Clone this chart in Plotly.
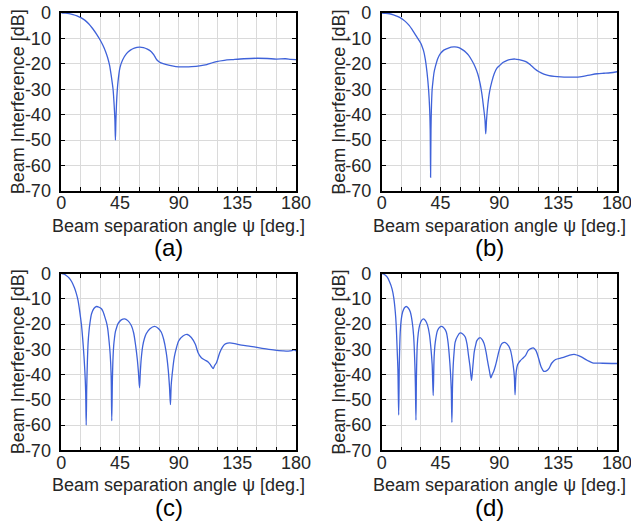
import plotly.graph_objects as go

# ---------------- data ----------------
a_deg = [0, 3, 6, 9, 12, 15, 18, 21, 24, 27,
         30, 32, 34, 35.5, 37, 38.4, 39.7, 40.5, 41.1, 41.5,
         41.9, 42.6, 43.5, 45, 47, 50, 53, 56, 60, 63,
         66, 69, 71, 72.5, 74, 76, 80, 85, 90, 95,
         100, 106, 111.6, 115, 119, 125, 132, 140, 150, 158,
         165, 172, 176, 180]
a_db = [0, -0.05, -0.25, -0.6, -1.1, -1.8, -2.8, -4.2, -6.1, -8.3,
        -10.8, -12.8, -15.2, -17.5, -20.5, -25, -30, -36, -42, -50,
        -42, -33, -27, -21.5, -18.5, -16, -14.6, -13.8, -13.4, -13.6,
        -14.2, -15.2, -16.5, -17.8, -18.8, -19.5, -20.2, -20.8, -21.2, -21.2,
        -21.1, -20.8, -20.3, -19.7, -19.1, -18.6, -18.3, -18.0, -17.8, -17.9,
        -18.1, -18.0, -18.2, -18.3]

b_deg = [0, 3, 6, 9, 12, 15, 18, 21, 24.4, 27,
         30, 31, 32, 33.3, 34.7, 35.9, 36.7, 37.1, 37.4, 37.7,
         38.1, 38.6, 39.3, 40, 41, 43, 45, 47.5, 50, 53,
         56, 59, 62, 64.5, 66.4, 69, 71.5, 73.5, 75.3, 76.7,
         77.9, 79, 79.6, 80.2, 81.2, 82.5, 84.2, 86, 88, 90.6,
         93, 96, 99, 102, 105, 108, 111, 114, 117, 120,
         124, 128, 132, 137, 142.5, 150, 155, 160, 165, 170,
         175, 180]
b_db = [0, -0.1, -0.3, -0.7, -1.3, -2.1, -3.3, -4.9, -7.4, -9.5,
        -12, -13.3, -14.8, -18, -23.5, -30.4, -38, -46, -64.6, -46,
        -36, -30, -26.5, -23.5, -21.2, -17.8, -15.9, -14.6, -14, -13.4,
        -13.3, -13.6, -14.5, -15.5, -16.6, -18.7, -21.2, -24, -27.8, -32,
        -37, -42, -47.5, -42, -36, -31, -27.1, -24, -21.8, -20.5,
        -19.4, -18.6, -18.2, -18.1, -18.3, -18.7, -19.3, -20.5, -21.9, -23,
        -24, -24.6, -24.9, -25.1, -25.2, -25.2, -24.8, -24.3, -23.9, -23.7,
        -23.5, -23.1]

c_deg = [0, 2, 4, 6, 8, 10, 11.5, 12.8, 14.2, 15.5,
         16.8, 18, 18.7, 19.1, 19.5, 20, 20.6, 21.3, 22, 23.2,
         25, 27, 29, 30.8, 32, 33, 34.6, 35.5, 36.3, 37.5,
         38.2, 38.7, 39.2, 39.7, 40.2, 40.8, 41.5, 42.5, 43.5, 46,
         48.6, 51, 53.7, 55.5, 57, 58.3, 59.3, 60, 60.6, 61.3,
         62.5, 63.7, 65.1, 68, 71.5, 74, 76.6, 78.5, 80.4, 82,
         83, 83.7, 84.3, 85.5, 86.7, 88, 90, 93.3, 96.7, 99.7,
         102.8, 104.9, 107.4, 110, 112.6, 114.5, 116.4, 117.5, 119, 121.5,
         123.5, 125.4, 127.5, 129.2, 133, 138.2, 145, 151, 157, 163.8,
         170, 174, 177, 178.5, 180]
c_db = [0, -0.2, -0.8, -1.7, -3.2, -5.5, -7.8, -10.5, -15.2, -20.5,
        -28.4, -38, -47, -60, -45, -35, -27, -22.5, -19.5, -15.9,
        -13.8, -13, -13.3, -13.9, -15, -16.5, -19.2, -21.5, -25, -32,
        -40, -58.3, -42, -33, -28.4, -25.5, -23, -21.2, -19.8, -18.3,
        -17.9, -18.6, -20.5, -23.5, -28.4, -34, -40, -45.2, -39, -33.7,
        -28.5, -25.8, -23.8, -21.8, -20.9, -21.5, -23.1, -26, -31, -38,
        -45, -51.9, -44, -37.7, -33, -30, -26.7, -24.7, -24.1, -25.3,
        -28, -31.3, -33.3, -34.2, -35, -36.2, -37.6, -36.5, -35.3, -31.3,
        -29.2, -28, -27.5, -27.4, -27.7, -28.3, -28.8, -29.3, -29.8, -30.3,
        -30.6, -30.7, -30.5, -30.2, -30.6]

d_deg = [0, 2, 4.1, 6, 7.9, 9.2, 10.4, 11.1, 11.7, 12.4,
         13, 13.5, 14.2, 15, 16, 17.3, 18.8, 20.3, 21.9, 23.3,
         24.4, 25.4, 25.8, 26.2, 26.6, 27.2, 28, 29, 30.5, 32,
         33.5, 35.1, 36.5, 37.7, 38.6, 39.4, 40.1, 41, 42.7, 44.3,
         46, 47.7, 49.4, 50.7, 51.7, 52.6, 53.2, 53.7, 54.2, 54.7,
         55.4, 56.2, 58, 60, 62, 63.9, 65.3, 66.4, 67.6, 68.7,
         69.7, 70.8, 72, 72.8, 75.3, 77, 78.4, 79.8, 80.9, 82.4,
         83.5, 84.5, 85.5, 87, 88, 89.3, 90.6, 92, 94.6, 97.2,
         98.6, 99.7, 101, 101.5, 102, 102.5, 103, 104, 106, 108,
         110, 112, 114, 116, 118, 120, 122, 124, 126, 128,
         130, 133, 138.2, 143.3, 147.2, 152.3, 157.4, 161.3, 169, 180]
d_db = [0, -0.3, -1.3, -3.2, -6, -9.5, -15.2, -20.5, -28.4, -38,
        -56, -35, -23, -18, -15.2, -13.6, -13, -13.6, -15.2, -19,
        -24.5, -36.4, -45, -58, -40, -28.4, -23.5, -20.5, -18.5, -17.9,
        -18.6, -20.5, -24, -29.8, -36, -48.3, -33, -27.1, -22.5, -21.2,
        -20.9, -21.6, -23.1, -27, -32.4, -39, -45.6, -58.9, -44, -36.4,
        -31, -27.1, -24.8, -23.5, -23.9, -25.1, -28, -32.4, -37, -42.3,
        -37, -31, -28, -26.5, -25.3, -26.2, -27.8, -31, -34.4, -38.5,
        -41.3, -40, -39, -36.5, -34.4, -31.5, -29.1, -27.7, -27.3, -28.7,
        -30.5, -33.3, -38, -41, -48, -42, -38.5, -36, -34.5, -33.5,
        -32.5, -30.5, -29.7, -29.4, -30.5, -33.5, -37, -38.7, -38.5, -37.5,
        -35.5, -34, -33.3, -32.4, -32, -32.9, -34.4, -35.3, -35.5, -35.6]

panel_labels = ["(a)", "(b)", "(c)", "(d)"]
x_title = "Beam separation angle ψ [deg.]"
y_title = "Beam Interference [dB]"
x_tickvals = [0, 45, 90, 135, 180]
x_minor = [15, 30, 60, 75, 105, 120, 150, 165]
y_tickvals = [0, -10, -20, -30, -40, -50, -60, -70]
y_ticktext = ["0", "-10", "-20", "-30", "-40", "-50", "-60", "-70"]

# ---------------- layout geometry (pixels) ----------------
W, H = 631, 525
FONT = "Liberation Sans, Arial, sans-serif"
TXT = "#262626"
LINE_COLOR = "#3f62d9"
GRID = "#dadada"

# left, right, top, bottom of each axes box
boxes = [(61.3, 296, 13, 191), (381.7, 617, 13, 191), (61.3, 296, 273.7, 450.3), (381.7, 617, 273.7, 450.3)]
series = [(a_deg, a_db), (b_deg, b_db), (c_deg, c_db), (d_deg, d_db)]

fig = go.Figure()
annotations = []
for i, ((x0, x1, y0, y1), (xs, ys)) in enumerate(zip(boxes, series)):
    n = "" if i == 0 else str(i + 1)
    fig.add_trace(go.Scatter(x=xs, y=ys, mode="lines",
                             line=dict(color=LINE_COLOR, width=1.3, shape="spline", smoothing=0.8),
                             xaxis="x" + n, yaxis="y" + n, showlegend=False, hoverinfo="skip"))
    common = dict(showline=True, linecolor="black", linewidth=1.6, mirror="allticks", ticks="inside",
                  ticklen=4, tickcolor="black", tickwidth=1, showgrid=True, gridcolor=GRID, gridwidth=1,
                  zeroline=False, tickfont=dict(family=FONT, size=18, color=TXT), fixedrange=True,
                  automargin=False, ticklabeloverflow="allow")
    fig.layout["xaxis" + n] = dict(domain=[x0 / W, x1 / W], range=[0, 180], anchor="y" + n,
                                   tickmode="array", tickvals=x_tickvals,
                                   minor=dict(tickvals=x_minor, ticks="inside",
                                              ticklen=4, tickcolor="black", showgrid=True, gridcolor=GRID,
                                              gridwidth=1),
                                   ticklabelstandoff=-5, **common)
    fig.layout["yaxis" + n] = dict(domain=[1 - y1 / H, 1 - y0 / H], range=[-70, 0], anchor="x" + n,
                                   tickmode="array", tickvals=y_tickvals, ticktext=y_ticktext,
                                   ticklabelstandoff=5, **common)
    cx = (x0 + x1) / 2
    annotations.append(dict(text=x_title, x=cx / W, y=1 - (y1 + 35) / H, xref="paper", yref="paper",
                            xanchor="center", yanchor="middle", showarrow=False,
                            font=dict(family=FONT, size=18, color=TXT)))
    annotations.append(dict(text=y_title, x=(x0 - 43) / W, y=1 - ((y0 + y1) / 2) / H, xref="paper",
                            yref="paper", xanchor="center", yanchor="middle", textangle=-90, showarrow=False,
                            font=dict(family=FONT, size=18, color=TXT)))
    annotations.append(dict(text=panel_labels[i], x=(cx - 10) / W, y=1 - (y1 + 57) / H, xref="paper",
                            yref="paper", xanchor="center", yanchor="middle", showarrow=False,
                            font=dict(family=FONT, size=24, color="black")))

fig.update_layout(width=W, height=H, margin=dict(l=0, r=0, t=0, b=0, autoexpand=False),
                  paper_bgcolor="white", plot_bgcolor="white", annotations=annotations, showlegend=False)
fig.write_html("out.html")
